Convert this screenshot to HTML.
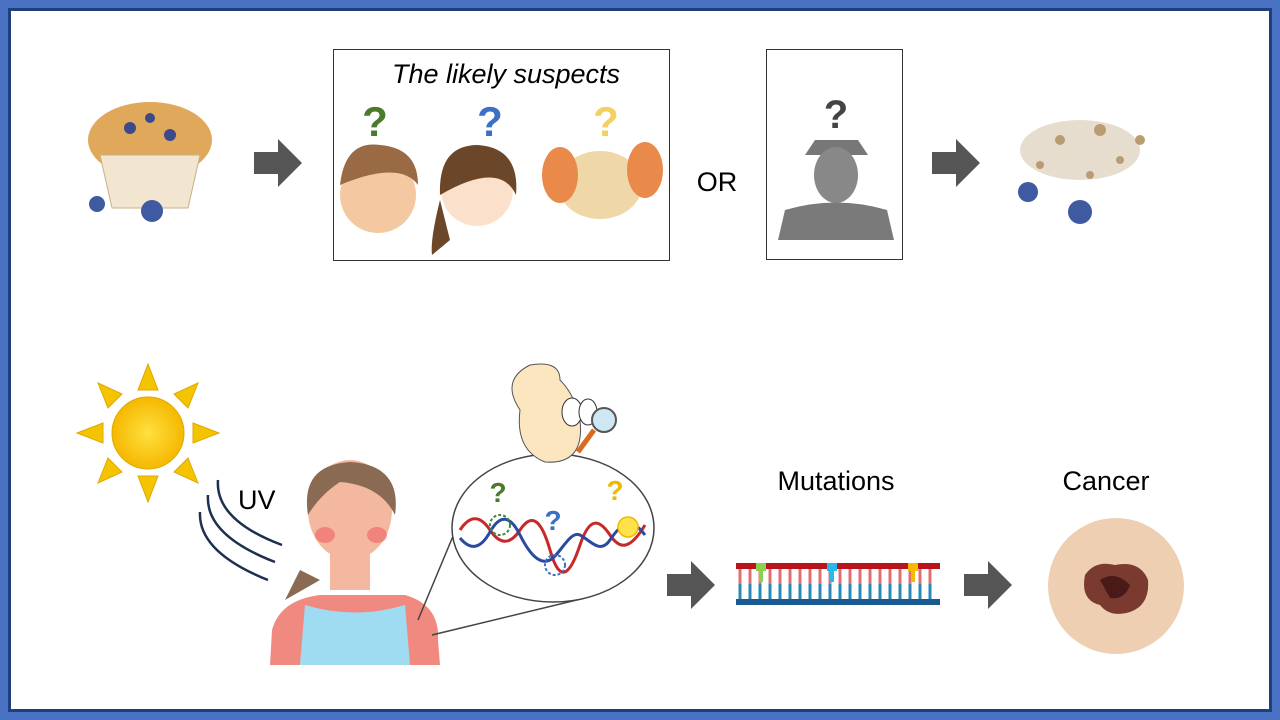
<!DOCTYPE html>
<html><head><meta charset="utf-8"><style>
html,body{margin:0;padding:0;background:#fff}
svg{display:block}
text{font-family:"Liberation Sans",sans-serif}
</style></head><body>
<svg width="1280" height="720" viewBox="0 0 1280 720" xmlns="http://www.w3.org/2000/svg">
<rect x="0" y="0" width="1280" height="720" fill="#4a72c4"/>
<rect x="8" y="8" width="1264" height="704" fill="#1f3f7a"/>
<rect x="11" y="11" width="1258" height="698" fill="#fff"/>
<defs>
<g id="arr"><polygon points="0,-11 24,-11 24,-24 48,0 24,24 24,11 0,11" fill="#555"/></g>
<radialGradient id="sun"><stop offset="0" stop-color="#ffe040"/><stop offset="1" stop-color="#f5b800"/></radialGradient>
</defs>
<!-- muffin -->
<ellipse cx="150" cy="140" rx="62" ry="38" fill="#e0a85a"/>
<path d="M100,155 L200,155 L188,208 L112,208 Z" fill="#f2e6d0" stroke="#c9b08a"/>
<circle cx="130" cy="128" r="6" fill="#3b4a8a"/><circle cx="170" cy="135" r="6" fill="#3b4a8a"/><circle cx="150" cy="118" r="5" fill="#3b4a8a"/>
<circle cx="97" cy="204" r="8" fill="#3f5aa0"/><circle cx="152" cy="211" r="11" fill="#3f5aa0"/>
<use href="#arr" x="254" y="163"/>
<!-- suspects box -->
<rect x="333.5" y="49.5" width="336" height="211" fill="#fff" stroke="#333"/>
<text x="506" y="83" font-size="27" font-style="italic" text-anchor="middle">The likely suspects</text>
<text x="375" y="136" font-size="42" font-weight="bold" fill="#4a7a2a" text-anchor="middle">?</text>
<text x="490" y="136" font-size="42" font-weight="bold" fill="#3d6fc4" text-anchor="middle">?</text>
<text x="606" y="136" font-size="42" font-weight="bold" fill="#f3d060" text-anchor="middle">?</text>
<circle cx="378" cy="195" r="38" fill="#f4c8a0"/><path d="M340,185 Q345,140 380,145 Q418,148 418,185 Q400,160 340,185Z" fill="#9a6a45"/>
<circle cx="477" cy="190" r="36" fill="#fbe0cc"/><path d="M440,195 Q438,145 478,145 Q520,148 516,195 Q500,160 440,195Z" fill="#6b4628"/><path d="M440,200 Q430,240 432,255 L450,240Z" fill="#6b4628"/>
<ellipse cx="600" cy="185" rx="42" ry="34" fill="#f0d7a8"/><ellipse cx="560" cy="175" rx="18" ry="28" fill="#e9894a"/><ellipse cx="645" cy="170" rx="18" ry="28" fill="#e9894a"/>
<text x="717" y="191" font-size="27" text-anchor="middle">OR</text>
<rect x="766.5" y="49.5" width="136" height="210" fill="#fff" stroke="#333"/>
<text x="836" y="128" font-size="40" font-weight="bold" fill="#444" text-anchor="middle">?</text>
<path d="M805,155 L868,155 L858,140 L815,140Z" fill="#777"/>
<ellipse cx="836" cy="175" rx="22" ry="28" fill="#888"/>
<path d="M778,240 L785,210 Q836,195 887,210 L894,240Z" fill="#7a7a7a"/>
<use href="#arr" x="932" y="163"/>
<!-- crumbs -->
<g fill="#a88450" opacity="0.8">
<ellipse cx="1080" cy="150" rx="60" ry="30" opacity="0.35"/>
<circle cx="1060" cy="140" r="5"/><circle cx="1100" cy="130" r="6"/><circle cx="1120" cy="160" r="4"/><circle cx="1040" cy="165" r="4"/><circle cx="1140" cy="140" r="5"/><circle cx="1090" cy="175" r="4"/>
</g>
<circle cx="1028" cy="192" r="10" fill="#3f5aa0"/><circle cx="1080" cy="212" r="12" fill="#3f5aa0"/>
<!-- sun -->
<g fill="#f5c400" stroke="#e0a800">
<polygon points="148,364 138,390 158,390"/><polygon points="148,502 138,476 158,476"/>
<polygon points="77,433 103,423 103,443"/><polygon points="219,433 193,423 193,443"/>
<polygon points="98,383 122,394 108,408"/><polygon points="198,383 174,394 188,408"/>
<polygon points="98,483 108,458 122,472"/><polygon points="198,483 188,458 174,472"/>
</g>
<circle cx="148" cy="433" r="36" fill="url(#sun)" stroke="#e0a800"/>
<g fill="none" stroke="#1f2f50" stroke-width="2.5">
<path d="M218,480 Q215,520 282,545"/><path d="M208,495 Q205,535 275,562"/><path d="M200,512 Q198,552 268,580"/>
</g>
<text x="238" y="509" font-size="27">UV</text>
<!-- woman -->
<path d="M270,665 L272,630 Q280,600 320,595 L405,595 Q440,605 438,640 L440,665Z" fill="#f08a80"/>
<path d="M300,665 L305,605 Q355,620 405,605 L410,665Z" fill="#9fdcf2"/>
<path d="M285,600 L300,570 L320,580Z" fill="#8a6a52"/>
<rect x="330" y="545" width="40" height="45" fill="#f4b8a0"/>
<ellipse cx="350" cy="510" rx="42" ry="50" fill="#f4b8a0"/>
<path d="M308,515 Q300,465 350,462 Q402,465 395,515 Q380,485 340,482 Q320,495 308,515Z" fill="#8a6a52"/>
<ellipse cx="325" cy="535" rx="10" ry="8" fill="#ee6060" opacity="0.6"/><ellipse cx="377" cy="535" rx="10" ry="8" fill="#ee6060" opacity="0.6"/>
<!-- magnifier lines & ellipse -->
<line x1="418" y1="620" x2="466" y2="505" stroke="#444" stroke-width="1.5"/>
<line x1="432" y1="635" x2="585" y2="598" stroke="#444" stroke-width="1.5"/>
<ellipse cx="553" cy="528" rx="101" ry="74" fill="#fff" stroke="#444" stroke-width="1.5"/>
<!-- yeast -->
<path d="M530,365 Q500,380 520,410 Q515,450 545,462 Q585,465 580,420 Q575,395 560,380 Q560,360 530,365Z" fill="#fbe6bf" stroke="#555"/>
<ellipse cx="572" cy="412" rx="10" ry="14" fill="#fff" stroke="#333"/><ellipse cx="588" cy="412" rx="9" ry="13" fill="#fff" stroke="#333"/>
<circle cx="604" cy="420" r="12" fill="#cfe6f5" stroke="#555" stroke-width="2"/>
<line x1="594" y1="430" x2="578" y2="452" stroke="#d96a1e" stroke-width="5"/>
<text x="498" y="502" font-size="28" font-weight="bold" fill="#4a7a2a" text-anchor="middle">?</text>
<text x="553" y="530" font-size="28" font-weight="bold" fill="#3d6fc4" text-anchor="middle">?</text>
<text x="615" y="500" font-size="28" font-weight="bold" fill="#f0b800" text-anchor="middle">?</text>
<path d="M460,530 C470,515 480,515 490,530 S510,545 520,530 S540,515 550,550 S570,575 580,545 S600,520 610,535 S630,550 645,525" fill="none" stroke="#c8282a" stroke-width="3"/>
<path d="M460,538 C470,550 480,550 490,532 S510,515 520,535 S540,565 550,560 S570,530 580,535 S600,555 610,540 S630,515 645,535" fill="none" stroke="#2a4aa0" stroke-width="3"/>
<circle cx="500" cy="525" r="10" fill="none" stroke="#3a8a3a" stroke-width="2" stroke-dasharray="3 2"/>
<circle cx="555" cy="565" r="10" fill="none" stroke="#3d6fc4" stroke-width="2" stroke-dasharray="3 2"/>
<circle cx="628" cy="527" r="10" fill="#ffe24a" stroke="#f0b800" stroke-width="1.5"/>
<!-- arrows bottom -->
<use href="#arr" x="667" y="585"/>
<text x="836" y="490" font-size="27" text-anchor="middle">Mutations</text>
<g>
<rect x="736" y="563" width="204" height="6" fill="#b8141c"/>
<rect x="736" y="599" width="204" height="6" fill="#1a5a90"/>
<g stroke-width="3">
<path d="M740,569 V584 M750,569 V584 M760,569 V584 M770,569 V584 M780,569 V584 M790,569 V584 M800,569 V584 M810,569 V584 M820,569 V584 M830,569 V584 M840,569 V584 M850,569 V584 M860,569 V584 M870,569 V584 M880,569 V584 M890,569 V584 M900,569 V584 M910,569 V584 M920,569 V584 M930,569 V584" stroke="#e07070"/>
<path d="M740,584 V599 M750,584 V599 M760,584 V599 M770,584 V599 M780,584 V599 M790,584 V599 M800,584 V599 M810,584 V599 M820,584 V599 M830,584 V599 M840,584 V599 M850,584 V599 M860,584 V599 M870,584 V599 M880,584 V599 M890,584 V599 M900,584 V599 M910,584 V599 M920,584 V599 M930,584 V599" stroke="#2a88b8"/>
</g>
<rect x="756" y="563" width="10" height="8" fill="#8cd050"/><rect x="759" y="570" width="4" height="12" fill="#8cd050"/>
<rect x="827" y="563" width="10" height="8" fill="#28b8f0"/><rect x="830" y="570" width="4" height="12" fill="#28b8f0"/>
<rect x="908" y="563" width="10" height="8" fill="#f8b800"/><rect x="911" y="570" width="4" height="12" fill="#f8b800"/>
</g>
<use href="#arr" x="964" y="585"/>
<text x="1106" y="490" font-size="27" text-anchor="middle">Cancer</text>
<circle cx="1116" cy="586" r="68" fill="#eecfb2"/>
<path d="M1085,575 Q1095,560 1115,565 Q1140,560 1148,580 Q1150,605 1130,612 Q1110,618 1100,605 Q1080,600 1085,575Z" fill="#7a3a30"/>
<path d="M1100,580 Q1115,570 1130,585 Q1125,600 1110,598Z" fill="#4a1a18"/>
</svg>
</body></html>
